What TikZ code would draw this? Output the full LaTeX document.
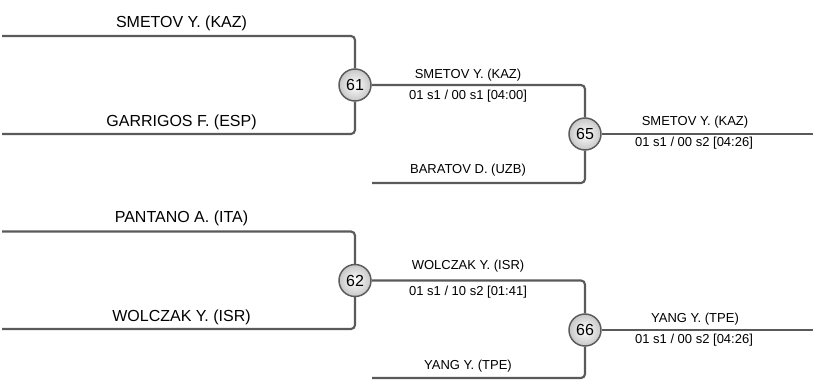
\documentclass[tikz,border=0pt]{standalone}
\usepackage{fontspec}
\setmainfont{Liberation Sans}
\definecolor{linegray}{HTML}{5A5A5A}
\begin{document}
\begin{tikzpicture}[x=0.75pt,y=-0.75pt,
  br/.style={draw=linegray,line width=1.6pt,rounded corners=3pt},
  match/.style={circle,draw=linegray,line width=1.1pt,minimum size=24pt,inner sep=0pt,
    inner color=white,outer color=black!22,font=\fontsize{12pt}{13pt}\selectfont},
  big/.style={anchor=base,inner sep=0pt,font=\fontsize{12pt}{14pt}\selectfont},
  small/.style={anchor=base,inner sep=0pt,font=\fontsize{9.75pt}{11pt}\selectfont}]
\useasboundingbox (0,0) rectangle (813,383);
% match circles
\node[match] (m61) at (355,85) {61};
\node[match] (m65) at (585,134) {65};
\node[match] (m62) at (355,280.5) {62};
\node[match] (m66) at (585,330) {66};
% free ends
\coordinate (a1) at (2,36);
\coordinate (a2) at (2,134);
\coordinate (b1) at (2,231.5);
\coordinate (b2) at (2,329);
\coordinate (c1) at (372,183);
\coordinate (c2) at (372,378);
\coordinate (r65) at (813,134);
\coordinate (r66) at (813,330);
% connectors
\draw[br] (a1) -| (m61);
\draw[br] (a2) -| (m61);
\draw[br] (b1) -| (m62);
\draw[br] (b2) -| (m62);
\draw[br] (m61) -| (m65);
\draw[br] (c1) -| (m65);
\draw[br] (m62) -| (m66);
\draw[br] (c2) -| (m66);
\draw[br] (m65) -- (r65);
\draw[br] (m66) -- (r66);
% labels
\node[big] (l1) at (181.5,27) {SMETOV Y. (KAZ)};
\node[big] (l2) at (181.5,126) {GARRIGOS F. (ESP)};
\node[big] (l3) at (181.5,222.7) {PANTANO A. (ITA)};
\node[big] (l4) at (181.5,321.7) {WOLCZAK Y. (ISR)};
\node[small] (w61) at (468,78) {SMETOV Y. (KAZ)};
\node[small] (s61) at (468,99) {01 s1 / 00 s1 [04:00]};
\node[small] (l5) at (468,173) {BARATOV D. (UZB)};
\node[small] (w62) at (468,269.3) {WOLCZAK Y. (ISR)};
\node[small] (s62) at (468,295) {01 s1 / 10 s2 [01:41]};
\node[small] (l6) at (468,369) {YANG Y. (TPE)};
\node[small] (w65) at (695,125) {SMETOV Y. (KAZ)};
\node[small] (s65) at (694,146.7) {01 s1 / 00 s2 [04:26]};
\node[small] (w66) at (695,322.7) {YANG Y. (TPE)};
\node[small] (s66) at (694,343) {01 s1 / 00 s2 [04:26]};
\end{tikzpicture}
\end{document}
